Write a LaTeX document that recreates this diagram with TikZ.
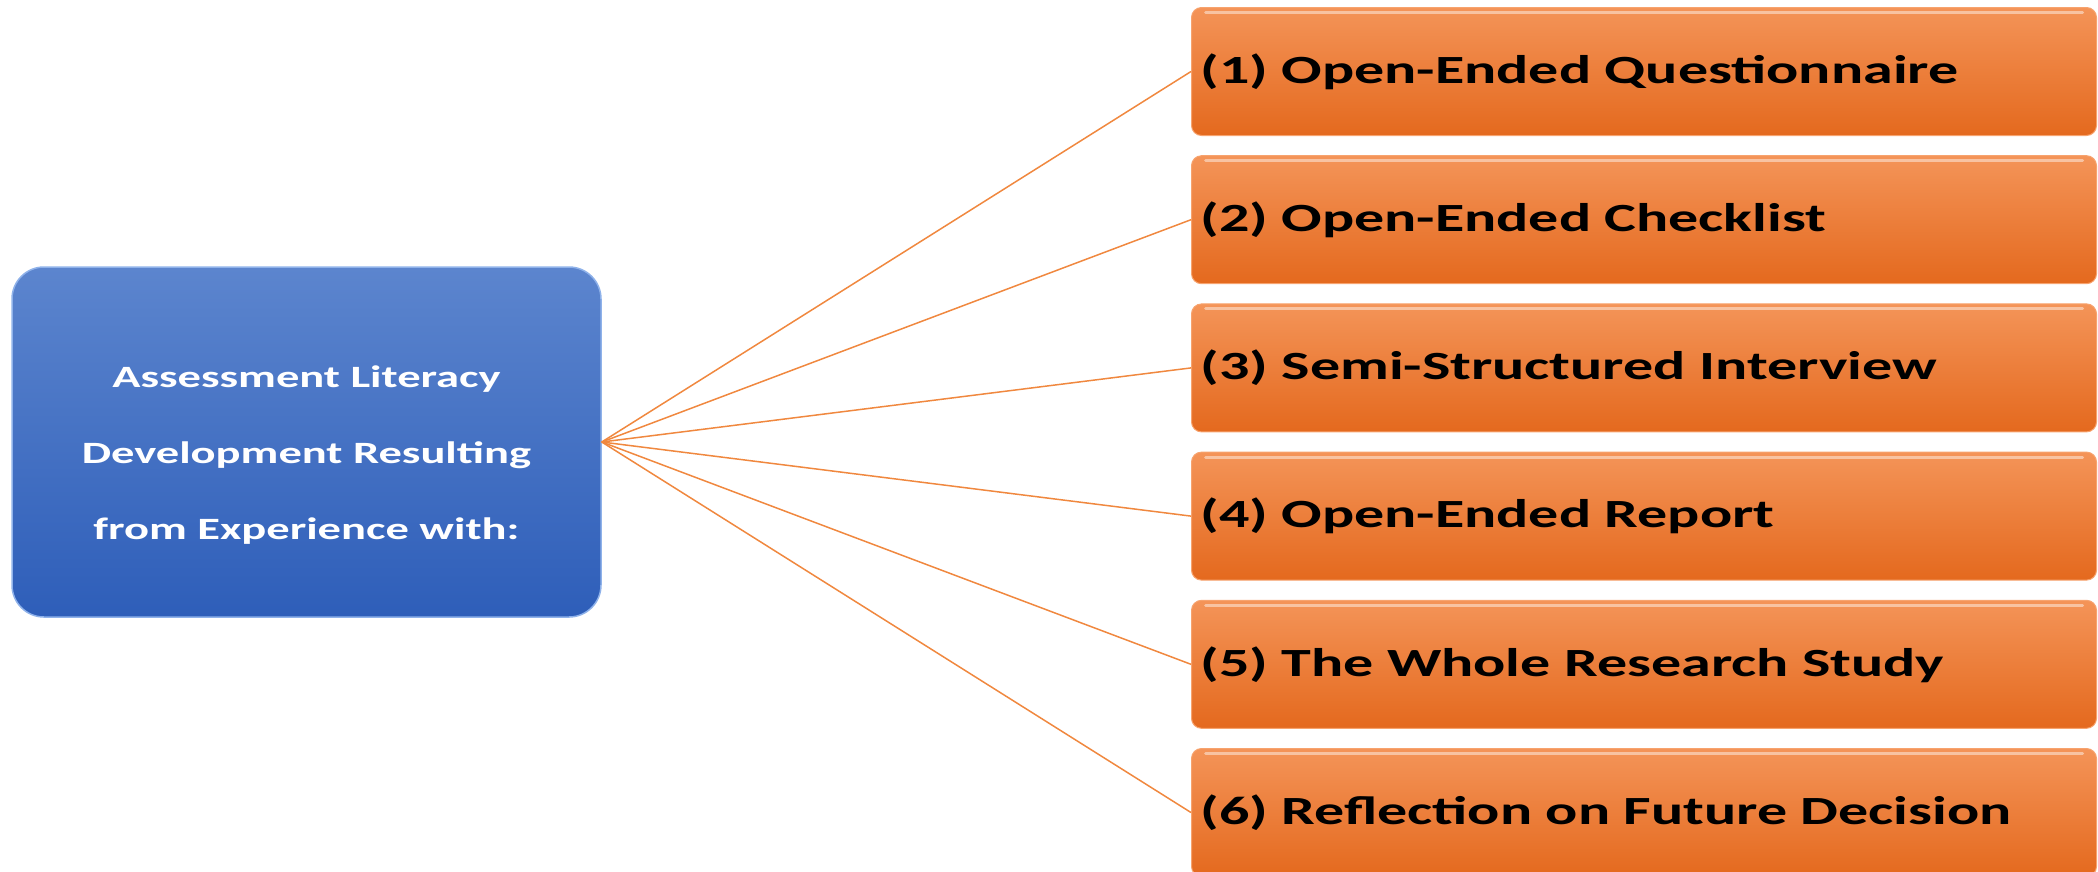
\documentclass[tikz,border=0pt]{standalone}
\usepackage{fontspec}
\newfontfamily\cfont{Carlito}[FakeStretch=1.5]
\definecolor{bluetop}{HTML}{5C85CE}
\definecolor{bluebot}{HTML}{2E5EB9}
\definecolor{blueedge}{HTML}{8FB2EA}
\definecolor{orgtop}{HTML}{F49458}
\definecolor{orgbot}{HTML}{E4691E}
\definecolor{orgedge}{HTML}{F7A36E}
\definecolor{linkc}{HTML}{F0883F}
\tikzset{
  hubbox/.style={draw=blueedge, line width=1.5pt, rounded corners=32pt,
    top color=bluetop, bottom color=bluebot,
    minimum width=589pt, minimum height=350pt, inner sep=0pt,
    text=white, align=center, font=\cfont\bfseries\fontsize{31}{76}\selectfont},
  itembox/.style={draw=orgedge, line width=1pt, rounded corners=10pt,
    top color=orgtop, bottom color=orgbot,
    anchor=north west, minimum height=128pt, inner xsep=9pt, inner ysep=0pt,
    text width=887pt, align=left, text=black,
    font=\cfont\bfseries\fontsize{40}{48}\selectfont,
    path picture={\draw[white, opacity=0.45, line width=3pt, line cap=round]
      ([xshift=14pt,yshift=-5pt]path picture bounding box.north west) --
      ([xshift=-14pt,yshift=-5pt]path picture bounding box.north east);}},
  link/.style={draw=linkc, line width=1.5pt}
}
\begin{document}
\begin{tikzpicture}[x=1pt,y=-1pt]
\useasboundingbox (0,0) rectangle (2098,871);
\node[hubbox] (hub) at (306.5,442) {\rule{0pt}{47pt}Assessment Literacy\\Development Resulting\\from Experience with:};
\node[itembox] (o1) at (1191,7) {(1) Open-Ended Questionnaire};
\node[itembox] (o2) at (1191,155.2) {(2) Open-Ended Checklist};
\node[itembox] (o3) at (1191,303.4) {(3) Semi-Structured Interview};
\node[itembox] (o4) at (1191,451.6) {(4) Open-Ended Report};
\node[itembox] (o5) at (1191,599.8) {(5) The Whole Research Study};
\node[itembox] (o6) at (1191,748) {(6) Reflection on Future Decision};
\foreach \i in {1,...,6} {
  \draw[link] (hub.east) -- (o\i.west);
}
\end{tikzpicture}
\end{document}
